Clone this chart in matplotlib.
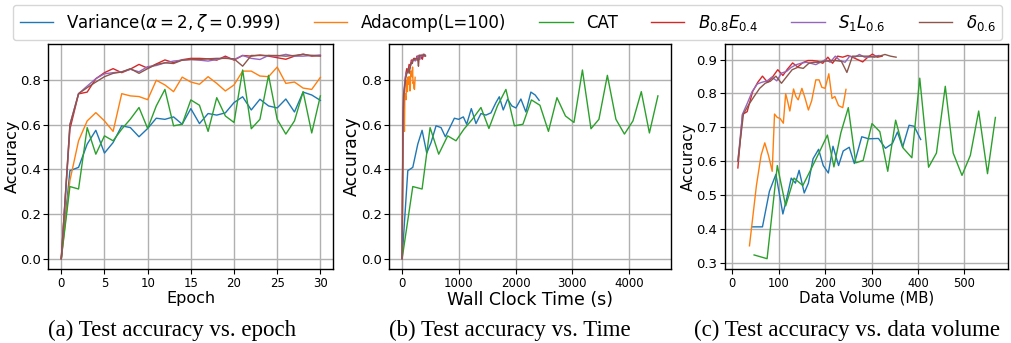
import numpy as np
import matplotlib
matplotlib.use("Agg")
import matplotlib.pyplot as plt


# accuracy per epoch (epoch 0..30), shared by panel (a) and (b)
epochs = list(range(31))

acc_variance = [0.0, 0.394, 0.409, 0.513, 0.575, 0.473, 0.52, 0.595, 0.587, 0.546, 0.583,
                0.629, 0.624, 0.635, 0.602, 0.672, 0.605, 0.65, 0.643, 0.653, 0.699,
                0.725, 0.666, 0.714, 0.684, 0.675, 0.715, 0.657, 0.746, 0.733, 0.709]
acc_adacomp = [0.0, 0.35, 0.528, 0.617, 0.654, 0.617, 0.570, 0.739, 0.729, 0.726, 0.712,
               0.799, 0.778, 0.748, 0.813, 0.791, 0.781, 0.815, 0.785, 0.751, 0.778,
               0.840, 0.840, 0.818, 0.815, 0.858, 0.785, 0.791, 0.764, 0.758, 0.812]
acc_cat = [0.0, 0.323, 0.312, 0.587, 0.468, 0.55, 0.528, 0.58, 0.625, 0.677, 0.583,
           0.684, 0.758, 0.595, 0.602, 0.711, 0.687, 0.57, 0.721, 0.639, 0.61,
           0.845, 0.582, 0.624, 0.821, 0.624, 0.558, 0.617, 0.748, 0.563, 0.729]
acc_b08e04 = [0.0, 0.58, 0.738, 0.746, 0.806, 0.833, 0.851, 0.833, 0.849, 0.870, 0.853,
              0.872, 0.890, 0.878, 0.891, 0.897, 0.897, 0.895, 0.889, 0.907, 0.889,
              0.910, 0.907, 0.912, 0.907, 0.900, 0.893, 0.907, 0.916, 0.907, 0.910]
acc_s1l06 = [0.0, 0.60, 0.739, 0.773, 0.806, 0.828, 0.833, 0.837, 0.848, 0.837, 0.860,
             0.865, 0.877, 0.885, 0.889, 0.892, 0.889, 0.885, 0.892, 0.900, 0.892,
             0.910, 0.897, 0.892, 0.910, 0.907, 0.915, 0.907, 0.907, 0.910, 0.912]
acc_delta06 = [0.0, 0.60, 0.739, 0.766, 0.791, 0.815, 0.830, 0.836, 0.851, 0.830, 0.851,
               0.870, 0.877, 0.874, 0.889, 0.892, 0.892, 0.895, 0.897, 0.897, 0.895,
               0.862, 0.910, 0.910, 0.910, 0.910, 0.907, 0.910, 0.915, 0.910, 0.907]

# wall clock time (s) per epoch, panel (b)
time_variance = [0, 100, 188, 276, 352, 434, 510, 598, 686, 762, 833, 921, 997, 1079, 1138,
                 1220, 1302, 1390, 1478, 1566, 1654, 1713, 1783, 1859, 1935, 2006, 2094,
                 2182, 2270, 2346, 2416]
time_adacomp = [0, 8, 15, 22, 29, 35, 41, 48, 56, 63, 70, 78, 86, 93, 100, 108, 116, 123,
                131, 138, 146, 154, 161, 169, 177, 184, 192, 200, 208, 218, 229]
time_cat = [0, 188, 352, 493, 645, 803, 950, 1090, 1240, 1390, 1530, 1680, 1830, 1980,
            2130, 2280, 2430, 2580, 2730, 2880, 3030, 3179, 3330, 3470, 3619, 3770, 3920,
            4070, 4217, 4360, 4510]
time_b08e04 = [0, 14, 27, 41, 55, 68, 82, 96, 110, 123, 137, 150, 164, 178, 192, 205, 219,
               232, 246, 260, 274, 287, 301, 315, 328, 342, 356, 370, 383, 397, 410]
time_s1l06 = [0, 13, 27, 40, 54, 67, 81, 95, 108, 122, 135, 149, 163, 176, 190, 203, 217,
              231, 244, 258, 271, 285, 299, 312, 326, 339, 353, 367, 380, 394, 407]
time_delta06 = [0, 14, 28, 41, 55, 69, 83, 96, 110, 124, 138, 151, 165, 179, 193, 206, 220,
                234, 248, 261, 275, 288, 302, 316, 330, 344, 357, 371, 385, 399, 412]

# data volume (MB) per epoch 1..30, panel (c)
vol_variance = [43, 65, 80, 94, 109, 118, 127, 136, 144, 155, 164, 174, 186, 196, 207, 217,
                229, 239, 252, 263, 279, 294, 315, 330, 345, 356, 367, 381, 392, 406]
acc_variance_c = [0.406, 0.406, 0.511, 0.561, 0.444, 0.494, 0.55, 0.535, 0.573, 0.506,
                  0.535, 0.607, 0.635, 0.587, 0.565, 0.644, 0.587, 0.63, 0.641, 0.593,
                  0.672, 0.666, 0.667, 0.638, 0.652, 0.686, 0.641, 0.706, 0.703, 0.664]
vol_adacomp = [37, 52, 62, 70, 78, 86, 91, 97, 103, 110, 115, 119, 124, 132, 137, 142, 150,
               157, 164, 171, 180, 187, 193, 200, 208, 215, 221, 229, 238, 245]
vol_cat = [47, 75, 97, 115, 133, 152, 171, 187, 205, 219, 234, 250, 266, 282, 301, 318, 335,
           352, 368, 387, 404, 423, 440, 459, 476, 495, 513, 531, 550, 567]
vol_b08e04 = [12, 22, 32, 44, 55, 65, 76, 87, 98, 109, 119, 130, 141, 152, 163, 173, 184,
              195, 206, 216, 227, 238, 249, 259, 270, 281, 292, 302, 313, 323]
vol_s1l06 = [12, 22, 33, 43, 54, 64, 75, 85, 96, 106, 117, 127, 138, 148, 159, 169, 180, 190,
             201, 211, 222, 232, 243, 253, 264, 274, 285, 295, 306, 316]
vol_delta06 = [12, 24, 35, 47, 59, 71, 82, 94, 106, 118, 129, 141, 153, 165, 176, 188, 200,
               212, 223, 235, 247, 259, 270, 282, 294, 306, 317, 329, 341, 353]

labels = [r"Variance($\alpha=2,\zeta=0.999$)", "Adacomp(L=100)", "CAT",
          r"$B_{0.8}E_{0.4}$", r"$S_1L_{0.6}$", r"$\delta_{0.6}$"]
colors = ["tab:blue", "tab:orange", "tab:green", "tab:red", "tab:purple", "tab:brown"]
captions = ["(a) Test accuracy vs. epoch", "(b) Test accuracy vs. Time",
            "(c) Test accuracy vs. data volume"]

LW = 1.0


def style_axis(ax, xlabel, label_size, xtick_size, ytick_size):
    ax.grid(True, color="#b0b0b0", linewidth=1.0)
    ax.set_axisbelow(True)
    ax.set_xlabel(xlabel, fontsize=label_size, labelpad=1)
    ax.set_ylabel("Accuracy", fontsize=label_size, labelpad=0)
    ax.tick_params(axis="x", labelsize=xtick_size, pad=2)
    ax.tick_params(axis="y", labelsize=ytick_size, pad=2)
    for s in ax.spines.values():
        s.set_color("black")
        s.set_linewidth(1.0)


def main():
    fig = plt.figure(figsize=(10.11, 3.43), dpi=100)

    ax_a = fig.add_axes([0.0478, 0.216, 0.2819, 0.656])
    ax_b = fig.add_axes([0.3851, 0.216, 0.2783, 0.656])
    ax_c = fig.add_axes([0.7171, 0.216, 0.2802, 0.656])

    accs = [acc_variance, acc_adacomp, acc_cat, acc_b08e04, acc_s1l06, acc_delta06]
    times = [time_variance, time_adacomp, time_cat, time_b08e04, time_s1l06, time_delta06]
    vols = [vol_variance, vol_adacomp, vol_cat, vol_b08e04, vol_s1l06, vol_delta06]

    handles = []
    for i in range(len(labels)):
        h, = ax_a.plot(epochs, accs[i], color=colors[i], linewidth=LW, label=labels[i])
        handles.append(h)
        ax_b.plot(times[i], accs[i], color=colors[i], linewidth=LW)
        if i == 0:
            ax_c.plot(vols[i], acc_variance_c, color=colors[i], linewidth=LW)
        else:
            ax_c.plot(vols[i], accs[i][1:], color=colors[i], linewidth=LW)

    ax_a.set_xticks([0, 5, 10, 15, 20, 25, 30])
    ax_b.set_xticks([0, 1000, 2000, 3000, 4000])
    ax_c.set_xticks([0, 100, 200, 300, 400, 500])

    style_axis(ax_a, "Epoch", 11.5, 8.5, 9.5)
    style_axis(ax_b, "Wall Clock Time (s)", 12.5, 8.5, 9.5)
    style_axis(ax_c, "Data Volume (MB)", 10.7, 8.3, 9.5)

    fig.legend(handles, labels, loc="upper center", bbox_to_anchor=(0.502, 0.995),
               ncol=6, fontsize=12, handlelength=2.0, columnspacing=2.0,
               borderaxespad=0.2)

    cap_x = [0.170, 0.504, 0.838]
    for i in range(3):
        fig.text(cap_x[i], 0.036, captions[i], ha="center", va="center",
                 fontsize=16.5, family="Liberation Serif")

    fig.savefig("out.png", dpi=100)


if __name__ == '__main__':
    main()
